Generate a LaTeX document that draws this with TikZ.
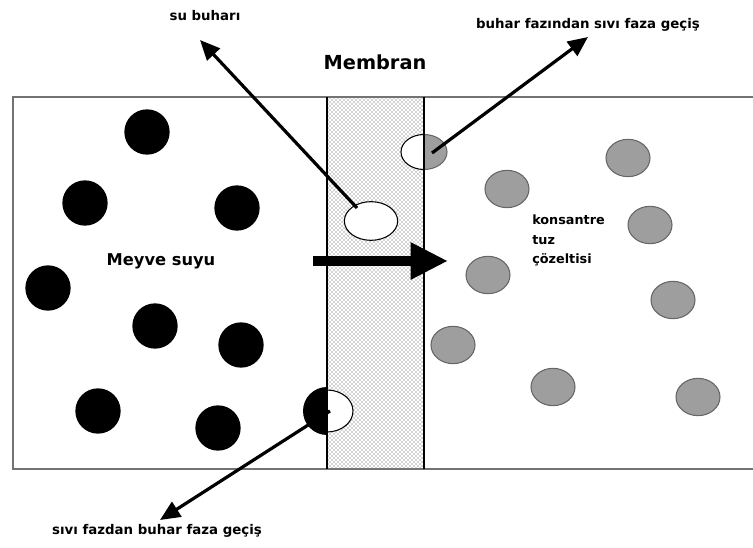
\documentclass[tikz,border=0pt]{standalone}
\usepackage{fontspec}
\setmainfont{DejaVu Sans}
\usetikzlibrary{patterns,arrows.meta,shapes.geometric}

\tikzset{
  juice/.style={circle,fill=black,minimum size=34pt,inner sep=0pt},
  salt/.style={ellipse,draw=black!60,line width=0.8pt,fill=black!38,minimum width=33pt,minimum height=28pt,inner sep=0pt},
  lbl/.style={font=\bfseries\fontsize{10}{12}\selectfont},
  flow/.style={-{Triangle[length=15pt,width=13pt]},line width=2.4pt},
}

\begin{document}
\begin{tikzpicture}[x=0.75pt,y=-0.75pt]
\useasboundingbox (0,0) rectangle (753,548);
%\draw[step=50,gray,very thin] (0,0) grid (753,548);
%.............................
\fill[pattern=crosshatch dots,pattern color=black!75] (327,97) rectangle (424,469);
\draw[line width=1.4pt,black!55] (753,97)--(13,97)--(13,469)--(753,469);
\node[font=\bfseries\fontsize{14.5}{17}\selectfont] (mem) at (375,62) {Membran};
%.............................
\node[juice] (j1) at (147,132) {};
\node[juice] (j2) at (85,203) {};
\node[juice] (j3) at (237,208) {};
\node[juice] (j4) at (48,288) {};
\node[juice] (j5) at (155,326) {};
\node[juice] (j6) at (241,345) {};
\node[juice] (j7) at (98,411) {};
\node[juice] (j8) at (218,428) {};
\node[font=\bfseries\fontsize{12.2}{14}\selectfont] (juicelbl) at (161,261) {Meyve suyu};
%.............................
\node[salt] (s1) at (507,189) {};
\node[salt] (s2) at (628,158) {};
\node[salt] (s3) at (650,225) {};
\node[salt] (s4) at (488,275) {};
\node[salt] (s5) at (673,300) {};
\node[salt] (s6) at (453,345) {};
\node[salt] (s7) at (553,387) {};
\node[salt] (s8) at (698,397) {};
\node[font=\bfseries\fontsize{9.6}{14.3}\selectfont,align=left,anchor=north west,inner sep=0pt] (saltlbl) at (532,215) {konsantre\\tuz\\çözeltisi};
%.............................
\node[ellipse,draw,line width=0.8pt,fill=white,minimum width=40pt,minimum height=29pt,inner sep=0pt] (vap) at (371,221) {};
% half drops on the membrane faces
\begin{scope}
\clip (290,380) rectangle (327,445);
\fill[black] (327,411) circle [radius=24];
\end{scope}
\begin{scope}
\clip (327,380) rectangle (360,445);
\draw[line width=0.8pt,fill=white] (327,411) ellipse [x radius=26,y radius=21];
\end{scope}
\begin{scope}
\clip (395,125) rectangle (424,180);
\draw[line width=0.8pt,fill=white] (424,152) ellipse [x radius=23,y radius=17.5];
\end{scope}
\begin{scope}
\clip (424,125) rectangle (455,180);
\draw[black!60,line width=0.8pt,fill=black!38] (424,152) ellipse [x radius=23,y radius=17.5];
\end{scope}
\draw[line width=1.3pt] (327,97)--(327,469);
\draw[line width=1.3pt] (424,97)--(424,469);
\coordinate (vapout) at (357,208);
\coordinate (cond) at (432,153);
\coordinate (evap) at (330,411);
%.............................
\node[lbl] (vaplbl) at (205,16) {su buharı};
\node[lbl] (condlbl) at (588,25) {buhar fazından sıvı faza geçiş};
\node[lbl] (evaplbl) at (157,531) {sıvı fazdan buhar faza geçiş};
\draw[flow] (vapout) -- (200,40);
\draw[flow] (cond) -- (588,37);
\draw[flow] (evap) -- (160,520);
\draw[-{Triangle[length=28pt,width=26pt]},line width=7.5pt] (313,261) -- (448,261);
\end{tikzpicture}
\end{document}
